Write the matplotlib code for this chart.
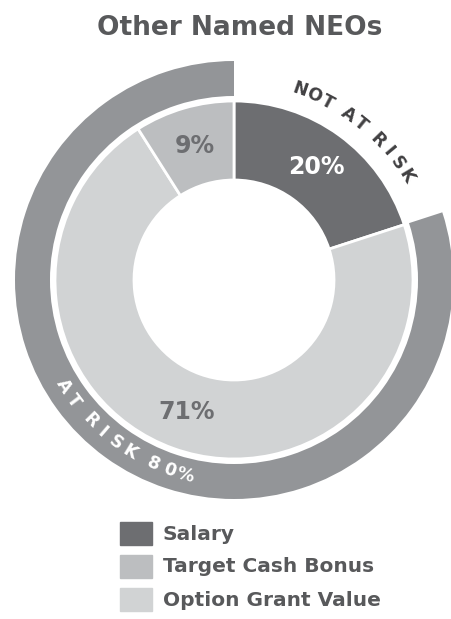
import numpy as np
import matplotlib
matplotlib.use('Agg')
import matplotlib.pyplot as plt
from matplotlib.patches import Rectangle

# Data
labels = ['Salary', 'Target Cash Bonus', 'Option Grant Value']
shares = [20, 9, 71]
colors = ['#6d6e71', '#bcbec0', '#d1d3d4']
label_colors = ['white', '#6d6e71', '#6d6e71']
risk_labels = ['NOT AT RISK', 'AT RISK 80%']
risk_shares = [20, 80]

# clockwise from 12 o'clock: Salary, Option Grant, Bonus
order = [0, 2, 1]

plt.rcParams['font.family'] = ['DejaVu Sans']
text_col = '#58595b'

fig = plt.figure(figsize=(4.52, 6.19), dpi=100)
ax = fig.add_axes([0, 0, 1, 1])
# one data unit = one pixel, donut centre at (234, 280) from top-left
ax.set_aspect('equal')
ax.axis('off')

# outer "at risk" ring
ax.pie(risk_shares, radius=219, startangle=90, counterclock=False,
       colors=['none', '#939598'], wedgeprops=dict(width=35, linewidth=0))

# inner donut
ax.pie([shares[i] for i in order], radius=179, startangle=90,
       counterclock=False, colors=[colors[i] for i in order],
       wedgeprops=dict(width=79, edgecolor='white', linewidth=2))
ax.set_xlim(-234, 218)
ax.set_ylim(-339, 280)

# percentage labels
start = 90
for i in order:
    span = shares[i] * 3.6
    mid = np.deg2rad(start - span / 2)
    r = 140
    ax.text(r * np.cos(mid), r * np.sin(mid), f'{shares[i]}%',
            ha='center', va='center', fontsize=17, fontweight='bold',
            color=label_colors[i])
    start -= span

# curved ring texts
def arc_text(s, a0, a1, r, color, top):
    w = np.array([0.55 if ch == ' ' else 1.0 for ch in s])
    pos = np.cumsum(w) - w / 2
    pos = (pos - pos[0]) / (pos[-1] - pos[0])
    for ch, p in zip(s, pos):
        if ch == ' ':
            continue
        a = a0 + (a1 - a0) * p
        t = np.deg2rad(a)
        rot = a - 90 if top else a + 90
        ax.text(r * np.cos(t), r * np.sin(t), ch, rotation=rot,
                rotation_mode='anchor', ha='center', va='center',
                fontsize=12.5, fontweight='bold', color=color)

arc_text(risk_labels[0], 71, 31, 201, '#414042', True)
arc_text(risk_labels[1], 212, 256, 201, 'white', False)

# title
fig.text(240 / 452, 1 - 28 / 619, 'Other Named NEOs', ha='center', va='center',
         fontsize=19, fontweight='bold', color=text_col)

# legend
for k, lab in enumerate(labels):
    y = 534 + 33 * k
    fig.patches.append(Rectangle((120 / 452, 1 - (y + 11) / 619), 32 / 452, 23 / 619,
                                 transform=fig.transFigure, color=colors[k]))
    fig.text(163 / 452, 1 - y / 619, lab, ha='left', va='center',
             fontsize=14.5, fontweight='bold', color=text_col)

plt.savefig('out.png', dpi=100)
